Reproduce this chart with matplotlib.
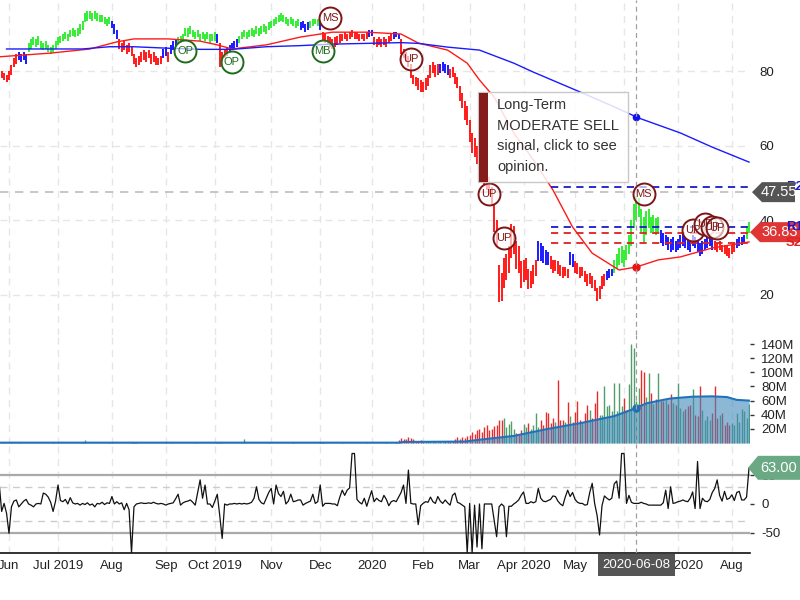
import numpy as np
import pandas as pd
import matplotlib
matplotlib.use('Agg')
import matplotlib.pyplot as plt
from matplotlib.patches import Polygon, Rectangle
from matplotlib.transforms import IdentityTransform

plt.rcParams['font.family'] = ['Liberation Sans', 'DejaVu Sans']
plt.rcParams['axes.unicode_minus'] = False

# trading calendar
holidays = ['2019-07-04', '2019-09-02', '2019-11-28', '2019-12-25', '2020-01-01',
            '2020-01-20', '2020-02-17', '2020-04-10', '2020-05-25', '2020-07-03']
dates = pd.bdate_range('2019-05-28', '2020-08-12', freq='C', holidays=holidays)

month_labels = ['Jun', 'Jul 2019', 'Aug', 'Sep', 'Oct 2019', 'Nov', 'Dec', '2020',
                'Feb', 'Mar', 'Apr 2020', 'May', 'Jun', 'Jul 2020', 'Aug']

# daily price bars (low / high)
low = [78.5, 78, 77.5, 77, 77.5, 79, 81, 82, 83, 82.5,
       83, 82, 85, 86, 87, 86.5, 87, 86, 85.5, 86,
       85, 84.5, 85, 86, 87, 87.5, 88, 88.5, 88, 89,
       89.5, 89, 89.5, 90, 91, 93, 93.5, 94, 93.5, 94,
       93.5, 93, 93, 92.5, 92, 92.5, 91.5, 90, 88.5, 86,
       85, 85.5, 84.5, 85, 84, 82, 81, 81.5, 82.5, 83,
       82.5, 83.5, 82, 82.5, 81.5, 81.5, 82, 83.5, 84, 82.5,
       84.5, 85.5, 86.5, 87, 87.5, 88, 89.5, 89, 90, 89,
       88.5, 89, 88, 88.5, 88, 88.5, 87.5, 88, 88, 87.5,
       81, 81.5, 83.5, 84, 85, 85.5, 86, 86.5, 87.5, 88.5,
       89, 88.5, 89, 89.5, 89, 90, 89.5, 90, 90.5, 90,
       91, 91.5, 92, 92.5, 93, 93.5, 93, 92.5, 92, 92.5,
       92, 91.5, 92, 91, 91.5, 90.5, 91, 91.5, 92, 92.5,
       92, 91, 88, 87.5, 87, 86.5, 86, 86.5, 87, 87.5,
       88, 88.5, 88, 88.5, 89, 88.5, 88.5, 88, 88.5, 88,
       88.5, 89, 89.5, 87, 86.5, 87, 86.5, 87, 86.5, 87.5,
       88, 88.5, 89, 88.5, 84.5, 83.5, 82.5, 81, 78, 76.5,
       76, 75, 74.5, 74.5, 75, 76, 78, 79.5, 78.5, 79,
       79.5, 80, 79.5, 79, 78, 78.5, 76.5, 75.5, 72, 70,
       67, 65.5, 61, 58, 57, 55, 54, 51.5, 49.5, 48,
       47, 44, 37, 33, 18, 18.5, 22, 24, 26, 30,
       31, 27, 26, 22, 23.5, 24, 21.5, 22, 23, 25,
       29, 29, 28.5, 28, 28, 27, 26, 26.5, 25.5, 25,
       24.5, 25, 24.5, 28, 27.5, 26, 25.5, 24.5, 25, 23.5,
       22.5, 23, 22, 21, 18.5, 19, 21.5, 22.5, 24, 24.5,
       25, 26, 27, 28, 28.5, 27.5, 29.5, 31, 33, 38,
       40, 41, 37, 34, 36, 38, 36.5, 37, 36, 37,
       34, 33, 33.5, 32, 31.5, 32, 31.5, 32, 32.5, 33,
       32.5, 32, 31.5, 33, 32.5, 31.5, 30.5, 31, 32, 32.5,
       33, 32, 32, 31.5, 32, 31.5, 31, 30.5, 30, 31,
       31.5, 32.5, 33, 33.5, 34, 35, 36.5]
high = [80.5, 80, 79.5, 79, 80, 81.5, 83.5, 84.5, 85, 84.5,
        85, 84.5, 87.5, 88.5, 89, 88.5, 89.5, 88, 87.5, 88,
        87, 86.5, 87, 88, 89, 89.5, 90, 90.5, 90, 91,
        91.5, 91, 91.5, 92.5, 93.5, 95.5, 96, 96, 95.5, 96,
        95.5, 95, 95, 94.5, 94, 94.5, 93.5, 92.5, 91, 88.5,
        87.5, 88, 87, 87.5, 86.5, 84.5, 83.5, 84, 85, 85.5,
        85, 85.5, 84.5, 85, 84, 83.5, 84, 86, 86.5, 85,
        87, 88, 88.5, 89, 89.5, 90, 91.5, 91.5, 92, 91,
        90.5, 91, 90, 90.5, 90, 90.5, 90, 90, 90.5, 90,
        87.5, 85, 86, 86.5, 87, 87.5, 88, 88.5, 89.5, 90.5,
        91, 90.5, 91, 91.5, 91, 92, 91.5, 92, 92.5, 92,
        93, 93.5, 94, 94.5, 95, 95.5, 95, 94.5, 94, 94.5,
        94, 93.5, 94, 93, 93.5, 92.5, 93, 93.5, 94, 94,
        94, 93.5, 90.5, 90, 89.5, 89, 88.5, 89, 89.5, 90,
        90, 90.5, 90, 90.5, 91, 90.5, 90.5, 90, 90, 90,
        90.5, 91, 91, 89, 88.5, 89, 88.5, 89, 88.5, 89.5,
        90, 90.5, 90.5, 90, 88.5, 86, 85, 84, 82, 79,
        78.5, 78, 77.5, 77, 78, 79, 81.5, 82.5, 81.5, 82,
        82, 82.5, 82, 81.5, 80.5, 81, 79.5, 78.5, 76, 74,
        72, 70.5, 67, 63.5, 62, 60, 58, 56, 54, 53,
        51.5, 49, 44.5, 40, 28, 26, 30, 31, 33, 39,
        38.5, 34.5, 33, 29, 29.5, 30, 27, 26.5, 28, 29.5,
        34.5, 34, 33, 32, 31.5, 30.5, 29.5, 29.5, 29, 28,
        27.5, 27.5, 27, 31.5, 31, 29, 28.5, 27.5, 27.5, 26.5,
        25.5, 26, 25, 24, 22, 22.5, 25, 25.5, 26.5, 27,
        27, 29.5, 31, 32.5, 33, 32, 33.5, 36, 40, 44.5,
        46.5, 46, 43, 41, 42.5, 43, 41, 41.5, 40.5, 41,
        37.5, 36.5, 36, 35.5, 35, 35.5, 34.5, 35, 36, 36.5,
        35.5, 35, 34.5, 36, 35.5, 34.5, 34, 34.5, 35, 35.5,
        35.5, 35, 34.5, 34, 34.5, 33.5, 33.5, 33, 32.5, 33.5,
        34, 35, 35.5, 35.5, 36, 38.5, 39.5]

# trend state runs (first bar, last bar, state)
trend_runs = [(0, 7, 'r'), (8, 11, 'b'), (12, 45, 'g'), (46, 48, 'b'), (49, 66, 'r'),
              (67, 68, 'b'), (69, 69, 'r'), (70, 72, 'b'), (73, 88, 'g'), (89, 89, 'b'),
              (90, 93, 'r'), (94, 97, 'b'), (98, 122, 'g'), (123, 126, 'b'), (127, 130, 'g'),
              (131, 131, 'b'), (132, 150, 'r'), (151, 152, 'b'), (153, 160, 'r'), (161, 163, 'b'),
              (164, 179, 'r'), (180, 183, 'b'), (184, 219, 'r'), (220, 224, 'b'), (225, 232, 'r'),
              (233, 234, 'b'), (235, 247, 'r'), (248, 250, 'b'), (251, 269, 'g'), (270, 291, 'b'),
              (292, 300, 'r'), (301, 304, 'b'), (305, 306, 'g')]

# moving averages read at sample bars
red_ma_i = [0, 21, 37, 48, 55, 69, 82, 89, 95, 109, 123, 136, 150, 164, 171, 183, 191, 196,
            202, 210, 218, 226, 234, 242, 251, 253, 260, 269, 278, 291, 306]
red_ma_v = [83.8, 84.8, 85.9, 87.8, 88.6, 88.6, 88.0, 87.0, 85.9, 87.0, 89.1, 90.4, 90.4, 89.9,
            87.5, 85.6, 82.1, 77.6, 73.0, 63.4, 56.2, 48.1, 38.2, 31.2, 27.5, 26.7, 27.5, 29.4,
            30.2, 32.6, 34.2]
blue_ma_i = [3, 34, 45, 55, 69, 82, 95, 109, 123, 136, 150, 164, 171, 183, 196, 210, 218, 237,
             251, 261, 278, 291, 306]
blue_ma_v = [85.9, 85.9, 86.5, 86.5, 86.1, 85.8, 85.8, 86.5, 86.8, 87.2, 87.4, 87.6, 87.4, 86.4,
             85.6, 82.1, 79.7, 74.4, 70.4, 67.4, 63.4, 59.6, 55.6]

# signals
sig_i = [76, 95, 132, 135, 168, 200, 206, 263, 283, 288, 291, 293]
sig_p = [85.4, 82.4, 85.4, 94.2, 83.2, 47.05, 35.3, 47.1, 37.4, 39.0, 38.2, 37.9]
sig_txt = ['OP', 'OP', 'MB', 'MS', 'UP', 'UP', 'UP', 'MS', 'UP', 'UP', 'UP', 'UP']
sig_buy = [True, True, True, False, False, False, False, False, False, False, False, False]

# pivot levels
level_start = 225
level_names = ['R2', 'R1', 'S1', 'S2']
level_vals = [48.9, 38.2, 36.6, 33.9]
cross_date = '2020-06-08'
cross_price = 47.55
last_price = 36.83

# volume (millions)
volume = [0.6, 0.5, 2.0, 0.6, 0.5, 0.8, 0.5, 0.4, 1.0, 0.5,
          0.4, 0.6, 0.5, 0.4, 0.7, 0.5, 0.5, 0.4, 0.6, 0.5,
          0.5, 0.4, 0.8, 0.5, 1.5, 0.5, 0.4, 0.6, 0.5, 0.5,
          0.4, 0.5, 0.6, 0.5, 1.0, 4.0, 0.6, 0.5, 0.5, 0.4,
          0.5, 0.6, 0.4, 0.5, 0.5, 1.5, 2.0, 0.6, 0.5, 0.5,
          0.4, 0.6, 0.5, 0.5, 0.8, 1.2, 1.5, 0.6, 0.5, 0.4,
          0.5, 0.6, 0.5, 0.4, 0.5, 0.5, 0.6, 0.5, 0.8, 0.5,
          1.0, 0.5, 0.4, 0.5, 0.6, 0.5, 0.5, 0.4, 0.6, 0.5,
          1.2, 0.5, 0.4, 0.6, 0.5, 0.5, 0.4, 0.5, 0.6, 0.8,
          1.5, 0.6, 0.5, 0.4, 0.5, 0.6, 0.5, 0.4, 0.5, 0.5,
          5.0, 0.6, 0.5, 0.4, 0.5, 0.6, 0.5, 0.5, 0.4, 0.6,
          1.0, 0.5, 0.5, 0.4, 0.6, 0.5, 0.5, 0.4, 0.5, 0.6,
          1.5, 0.5, 0.4, 0.6, 0.5, 0.5, 0.4, 0.5, 0.6, 0.5,
          0.5, 1.0, 0.8, 0.6, 0.5, 0.4, 0.5, 0.6, 0.5, 0.5,
          1.2, 0.5, 0.4, 0.6, 0.5, 0.5, 0.6, 0.5, 0.4, 0.5,
          1.0, 0.5, 0.6, 0.5, 0.4, 0.5, 0.6, 0.5, 1.0, 0.6,
          0.5, 0.6, 0.8, 4.0, 7.0, 6.0, 5.0, 8.0, 6.5, 5.0,
          3.0, 2.5, 4.0, 2.0, 1.5, 2.0, 2.5, 3.0, 1.5, 2.0,
          2.5, 2.0, 3.0, 2.5, 2.0, 3.0, 6.0, 8.0, 5.0, 9.0,
          7.0, 10.0, 12.0, 15.0, 13.0, 18.0, 20.0, 16.0, 22.0, 25.0,
          18, 20, 24, 26, 32, 32, 35, 22, 27, 31,
          20, 14, 12, 18, 27, 23, 29, 20, 25, 42,
          22, 33, 25, 44, 42, 28, 35, 30, 89, 33,
          33, 30, 58, 38, 30, 44, 60, 33, 30, 43,
          54, 47, 35, 57, 73, 40, 39, 80, 52, 54,
          45, 85, 45, 85, 52, 64, 47, 84, 140, 134,
          60, 78, 103, 101, 65, 99, 71, 55, 62, 99,
          60, 59, 61, 55, 69, 57, 54, 85, 50, 45,
          48, 52, 54, 77, 40, 38, 80, 47, 33, 38,
          33, 43, 80, 36, 40, 43, 26, 30, 26, 28,
          26, 43, 30, 48, 45, 35, 55]
vol_ma_i = [0, 163, 165, 190, 197, 210, 224, 237, 251, 260, 264, 271, 274, 283, 291, 297, 301, 306]
vol_ma_v = [0.5, 0.5, 1.5, 2.0, 5.0, 10.0, 20.0, 28.0, 38.0, 49.5, 56.0, 61.0, 63.0, 65.5, 66.0,
            65.0, 61.0, 60.0]

# oscillator
osc = [36, -13, 1, -16, -51, -5, 5, 7, -5, 0,
       5, 8, 0, -2, -5, 0, 1, 0, 19, 17,
       12, 3, -13, 5, 33, 6, 4, 8, 0, 11,
       2, 0, 1, -2, 1, -1, 2, -2, 0, -5,
       1, 0, 3, -1, 2, 1, 13, 0, 4, 0,
       2, -10, 1, -10, -85, -5, 0, 1, 2, 1,
       1, 2, 1, 3, 1, 0, 1, 0, -2, 0,
       1, 2, 9, 17, -2, 2, 4, 5, 7, 3,
       -2, 20, 42, 10, 33, 0, 0, -6, 5, 17,
       -20, -60, 0, -2, 0, 0, 1, 0, 1, 0,
       1, 0, 1, 3, 10, 30, 8, 2, 0, 10,
       20, 27, 0, 33, 18, 13, 22, 0, 5, 17,
       4, 5, 7, 7, -2, 1, 3, 5, 17, 1,
       4, 33, -4, 1, 1, 1, 0, 0, -3, 12,
       24, 15, 24, 28, 88, 88, 8, 3, 0, 10,
       -4, 10, 23, 4, 10, 6, 4, 15, 8, -3,
       4, 6, 4, 12, 20, 33, 1, 59, 1, 0,
       0, -36, -3, 1, 4, 3, 12, 4, 1, 13,
       5, 1, 7, 2, -2, 15, 19, 3, 1, -2,
       -5, -85, 1, -85, -2, -75, 0, -78, 0, 0,
       0, 0, -28, -57, -5, 0, -4, -57, -4, -4,
       0, 3, 7, 15, 21, 1, 1, 4, 2, 4,
       27, 10, 5, 4, 6, 8, 14, 13, 5, 0,
       -3, 12, 24, 13, 20, 8, 3, 1, 1, -2,
       -1, 20, 36, 1, -20, -54, -3, 14, 10, 7,
       10, 35, 40, 10, 88, 88, 1, 15, 3, 1,
       1, 1, 3, 1, 0, -2, -2, -2, -2, -2,
       -2, 2, 24, -8, 30, 1, 2, 4, 5, 7,
       5, 4, 10, 21, -8, 74, -8, 10, 5, 4,
       8, 20, 27, 42, 15, 5, 22, 8, 10, 16,
       6, 20, 22, 7, 7, 12, 63]

# ---------------------------------------------------------------
n = len(dates)
x = np.arange(n)
low = np.array(low[:n]); high = np.array(high[:n])
month_idx = [i for i in range(1, n) if dates[i].month != dates[i - 1].month]
cross_i = dates.get_loc(pd.Timestamp(cross_date))

palette = {'r': '#ff1a1a', 'b': '#1a1aff', 'g': '#33ee33'}
bar_col = ['k'] * n
for s, e, c in trend_runs:
    for k in range(s, min(e, n - 1) + 1):
        bar_col[k] = palette[c]

W, H = 800, 600
fig = plt.figure(figsize=(8, 6), dpi=100)
fig.patch.set_facecolor('white')
ax_p = fig.add_axes([0, 1 - 335 / H, 750 / W, 335 / H])
ax_v = fig.add_axes([0, 1 - 444 / H, 750 / W, 109 / H])
ax_i = fig.add_axes([0, 1 - 553 / H, 750 / W, 109 / H])

grid_kw = dict(color='#e6e6e6', linestyle=(0, (5, 4)), linewidth=1)
for ax in (ax_p, ax_v, ax_i):
    ax.set_xlim(0.33, 306.4)
    for sp in ax.spines.values():
        sp.set_visible(False)
    ax.set_xticks(month_idx)
    ax.grid(axis='x', **grid_kw)
    ax.set_axisbelow(True)
    ax.yaxis.tick_right()
    ax.axvline(cross_i, color='#a0a0a0', linestyle=(0, (4, 3)), linewidth=0.9, zorder=6)
    ax.tick_params(axis='x', length=0, labelbottom=False)

# ---- price panel
ax_p.set_ylim(9.28, 99.02)
ax_p.set_yticks([20, 40, 60, 80])
ax_p.grid(axis='y', **grid_kw)
ax_p.tick_params(axis='y', length=0, pad=7, labelsize=9.5, labelcolor='#222222')
ax_p.vlines(x, low, high, colors=bar_col, linewidth=1.4, zorder=3)
ax_p.plot(red_ma_i, red_ma_v, color='#ff1a1a', linewidth=1.0, zorder=4)
ax_p.plot(blue_ma_i, blue_ma_v, color='#1a1aff', linewidth=1.0, zorder=4)
ax_p.plot([cross_i], [np.interp(cross_i, red_ma_i, red_ma_v)], 'o', color='#ee1111', ms=5, zorder=5)
ax_p.plot([cross_i], [np.interp(cross_i, blue_ma_i, blue_ma_v)], 'o', color='#1111ee', ms=4.5, zorder=5)
ax_p.axhline(cross_price, color='#bdbdbd', linestyle=(0, (5, 4)), linewidth=1.2, zorder=2)
for name, v in zip(level_names, level_vals):
    c = '#1a1acc' if name.startswith('R') else '#e02020'
    ax_p.plot([level_start, 306.4], [v, v], color=c, linestyle=(0, (4, 3)), linewidth=1.3, zorder=4)

for i, p, t, buy in zip(sig_i, sig_p, sig_txt, sig_buy):
    c = '#1f6b1f' if buy else '#7d1616'
    ax_p.scatter([i], [p], s=250, facecolors=(1, 1, 1, 0.65), edgecolors=c, linewidths=1.4, zorder=7)
    ax_p.text(i, p, t, ha='center', va='center', fontsize=8, color=c, zorder=8)

# ---- volume panel
ax_v.set_ylim(-1.41, 152.8)
mid = (low + high) / 2
up = np.r_[True, mid[1:] >= mid[:-1]]
vcol = ['#4f9e6c' if u else '#e82a2a' for u in up]
ax_v.vlines(x, 0, volume[:n], colors=vcol, linewidth=1.0, zorder=2)
ax_v.fill_between(vol_ma_i, 0, vol_ma_v, color='#3f8abc', alpha=0.6, linewidth=0, zorder=3)
ax_v.plot(vol_ma_i, vol_ma_v, color='#1f72bb', linewidth=1.5, zorder=4)
ax_v.plot([cross_i], [np.interp(cross_i, vol_ma_i, vol_ma_v)], 'o', color='#1f6fb5', ms=5, zorder=5)
vt = [20, 40, 60, 80, 100, 120, 140]
ax_v.set_yticks(vt, [f'{v}M' for v in vt])
ax_v.tick_params(axis='y', length=3, width=1, color='#333333', pad=5, labelsize=9.5, labelcolor='#222222')

# ---- oscillator panel
ax_i.set_ylim(-85.4, 104.5)
for lv in (50, -50):
    ax_i.axhline(lv, color='#aaaaaa', linewidth=1.6, zorder=1)
for lv in (30, -30):
    ax_i.axhline(lv, color='#cccccc', linestyle=(0, (5, 4)), linewidth=1, zorder=1)
ax_i.plot(x, osc[:n], color='#111111', linewidth=0.9, zorder=3)
ax_i.set_yticks([-50, 0, 50])
ax_i.tick_params(axis='y', length=3, width=1, color='#333333', pad=5, labelsize=9.5, labelcolor='#222222')
ax_i.spines['bottom'].set_visible(True)
ax_i.spines['bottom'].set_color('#111111')
ax_i.spines['bottom'].set_linewidth(1.2)
ax_i.set_xticks(month_idx, month_labels)
ax_i.tick_params(axis='x', length=0, pad=5, labelbottom=True, labelsize=9.5, labelcolor='#222222')


# ---- right-hand value tags
def tag(ax, yval, text, color, left, right, half):
    yd = ax.transData.transform((0, yval))[1]
    pts = [(left, yd), (left + 10, yd + half), (right, yd + half), (right, yd - half), (left + 10, yd - half)]
    fig.add_artist(Polygon(pts, closed=True, transform=IdentityTransform(), fc=color, ec='none', zorder=5))
    fig.text((left + 10 + right) / 2, yd, text, transform=IdentityTransform(), color='white',
             fontsize=10.5, ha='center', va='center', zorder=6)


def level_label(name, v, color, z):
    yd = ax_p.transData.transform((0, v))[1]
    fig.text(786, yd, name, transform=IdentityTransform(), color=color, fontsize=9.5,
             fontweight='bold', ha='left', va='center', zorder=z)


level_label('R2', level_vals[0], '#1a1acc', 4)
level_label('S1', level_vals[2], '#e02020', 4)
tag(ax_p, cross_price, f'{cross_price:.2f}', '#555555', 752, 795, 10)
tag(ax_p, last_price, f'{last_price:.2f}', '#e03535', 750, 800, 10)
level_label('R1', level_vals[1], '#1a1acc', 7)
level_label('S2', level_vals[3], '#e02020', 7)
tag(ax_i, osc[n - 1], f'{osc[n - 1]:.2f}', '#6aa984', 748, 800, 12)

# date label under crosshair
xd = ax_i.transData.transform((cross_i, 0))[0]
fig.text(xd, 35, cross_date, transform=IdentityTransform(), color='white', fontsize=9.5,
         ha='center', va='center', zorder=8,
         bbox=dict(boxstyle='square,pad=0.35', fc='#555555', ec='none'))

# signal tooltip
fig.add_artist(Rectangle((478 / W, 1 - 182 / H), 150 / W, 90 / H, transform=fig.transFigure,
                         fc=(1, 1, 1, 0.85), ec='#c8c8c8', lw=1, zorder=5))
fig.add_artist(Rectangle((479 / W, 1 - 182 / H), 9 / W, 89 / H, transform=fig.transFigure,
                         fc='#861b1b', ec='none', zorder=6))
fig.text(497 / W, 1 - 98 / H, 'Long-Term\nMODERATE SELL\nsignal, click to see\nopinion.',
         fontsize=10.5, color='#333333', ha='left', va='top', linespacing=1.6, zorder=7)

fig.savefig('out.png', dpi=100)
